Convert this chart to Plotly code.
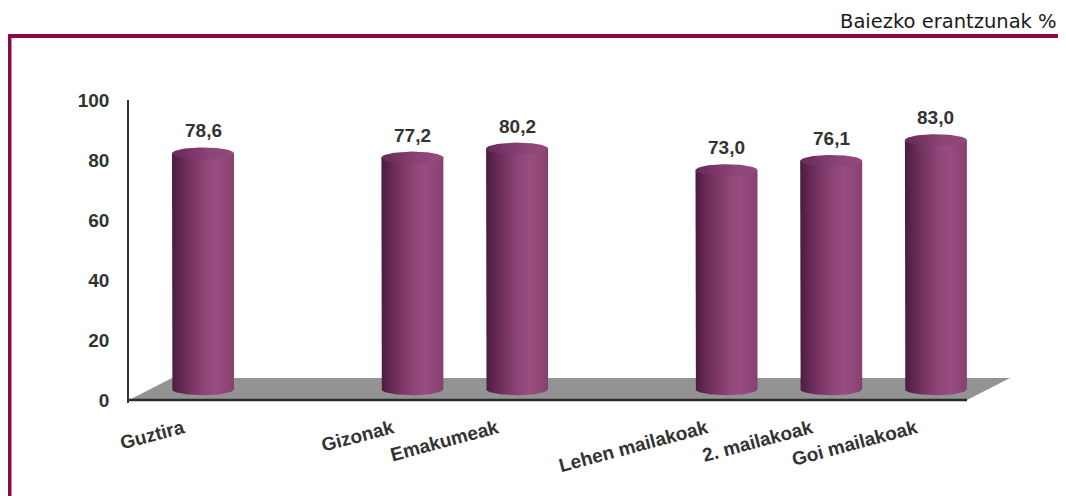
import numpy as np
import plotly.graph_objects as go

# ---------------- data ----------------
categories = ["Guztira", "Gizonak", "Emakumeak", "Lehen mailakoak", "2. mailakoak", "Goi mailakoak"]
values = [78.6, 77.2, 80.2, 73.0, 76.1, 83.0]
groups = ["Guztira", "Sexua", "Sexua", "Maila", "Maila", "Maila"]
y_ticks = [0, 20, 40, 60, 80, 100]
title_text = "Baiezko erantzunak %"

# ---------------- layout constants ----------------
OFF = 8                      # default page margin of the html body
W, H = 1066 - OFF, 496 - OFF
PLOT_L, PLOT_R, PLOT_T, PLOT_B = 129, 1015, 100, 403   # reference pixel coords
ML = PLOT_L - OFF
MR = W - (PLOT_R - OFF)
MT = PLOT_T - OFF
MB = H - (PLOT_B - OFF)
PX_PER_CAT = 104.7
FIRST_CAT_PX = 203
PX_PER_UNIT = 3.0

X_MIN = -(FIRST_CAT_PX - PLOT_L) / PX_PER_CAT
X_MAX = X_MIN + (PLOT_R - PLOT_L) / PX_PER_CAT
Y_MIN, Y_MAX = -1, 100

def px_to_x(px):
    return (px - FIRST_CAT_PX) / PX_PER_CAT

def paper_x(px):
    return (px - PLOT_L) / (PLOT_R - PLOT_L)

def paper_y(py):
    return (PLOT_B - py) / (PLOT_B - PLOT_T)

# slot positions with a gap between groups
x_pos = []
pos = 0
for i, g in enumerate(groups):
    if i > 0:
        pos += 1 if g == groups[i - 1] else 2
    x_pos.append(pos)

R = 31 / PX_PER_CAT          # cylinder radius (x units)
B = 6 / PX_PER_UNIT          # ellipse half height (y units)
BASE = 3.6                   # depth offset of cylinders on the floor

body_scale = [[0, "#4a1c3f"], [0.18, "#682a57"], [0.55, "#914779"],
              [0.72, "#984c80"], [1, "#86416f"]]
top_scale = [[0, "#672957"], [0.6, "#8a4476"], [1, "#95497d"]]

fig = go.Figure()

theta = np.linspace(0, np.pi, 40)
t_full = np.linspace(0, 2 * np.pi, 90)
for c, v in zip(x_pos, values):
    top = BASE + v
    bx = [c - R, c - R] + list(c - R * np.cos(theta)) + [c + R, c - R]
    by = [top, BASE] + list(BASE - B * np.sin(theta)) + [top, top]
    fig.add_trace(go.Scatter(
        x=bx, y=by, mode="lines", fill="toself", line=dict(width=0),
        fillgradient=dict(type="horizontal", colorscale=body_scale),
        hoverinfo="skip", showlegend=False))
for c, v in zip(x_pos, values):
    top = BASE + v
    fig.add_trace(go.Scatter(
        x=c + R * np.cos(t_full), y=top + B * np.sin(t_full),
        mode="lines", fill="toself", line=dict(width=0),
        fillgradient=dict(type="horizontal", colorscale=top_scale),
        hoverinfo="skip", showlegend=False))

# value labels
for c, v in zip(x_pos, values):
    fig.add_annotation(
        x=c, y=BASE + v + B, xref="x", yref="y",
        text=f"{v:.1f}".replace(".", ","), showarrow=False,
        yanchor="bottom", yshift=4,
        font=dict(family="Liberation Sans, Arial", size=19, color="#333333", weight="bold"))

# floor
floor_front_right = px_to_x(967)
floor_dx = 43 / PX_PER_CAT
floor_dy = 22 / PX_PER_UNIT
fig.add_shape(
    type="path", xref="x", yref="y", layer="below",
    path=(f"M {X_MIN},0 L {floor_front_right},0 L {floor_front_right + floor_dx},{floor_dy} "
          f"L {X_MIN + floor_dx},{floor_dy} Z"),
    fillcolor="#939393", line=dict(width=0))
fig.add_shape(type="line", xref="x", yref="y", x0=X_MIN, x1=floor_front_right, y0=0, y1=0,
              line=dict(color="#2b2b2b", width=2.5), layer="above")

# frame lines
fig.add_shape(type="line", xref="paper", yref="paper",
              x0=paper_x(OFF), x1=paper_x(1066), y0=paper_y(36), y1=paper_y(36),
              line=dict(color="#8a0a45", width=4))
fig.add_shape(type="line", xref="paper", yref="paper",
              x0=paper_x(9.5), x1=paper_x(9.5), y0=paper_y(34), y1=paper_y(496),
              line=dict(color="#8a0a45", width=4))

# title
fig.add_annotation(
    x=paper_x(1059), y=paper_y(21.5), xref="paper", yref="paper",
    xanchor="right", yanchor="middle", showarrow=False, text=title_text,
    font=dict(family="DejaVu Sans", size=19.5, color="#1a1a1a"))

fig.update_layout(
    width=W, height=H,
    margin=dict(l=ML, r=MR, t=MT, b=MB),
    paper_bgcolor="white", plot_bgcolor="white",
    showlegend=False,
    separators=",.",
    xaxis=dict(range=[X_MIN, X_MAX], tickmode="array", tickvals=x_pos, ticktext=categories,
               tickangle=-15, showgrid=False, zeroline=False, showline=False, ticks="",
               ticklabelshift=-20, ticklabelstandoff=10,
               tickfont=dict(family="Liberation Sans, Arial", size=19, color="#333333", weight="bold"),
               fixedrange=True),
    yaxis=dict(range=[Y_MIN, Y_MAX], tickmode="array", tickvals=y_ticks,
               showgrid=False, zeroline=False, showline=True, linecolor="#333333", linewidth=1.5,
               ticks="", ticklabelstandoff=14,
               tickfont=dict(family="Liberation Sans, Arial", size=19, color="#333333", weight="bold"),
               fixedrange=True),
)

fig.write_html("out.html")
